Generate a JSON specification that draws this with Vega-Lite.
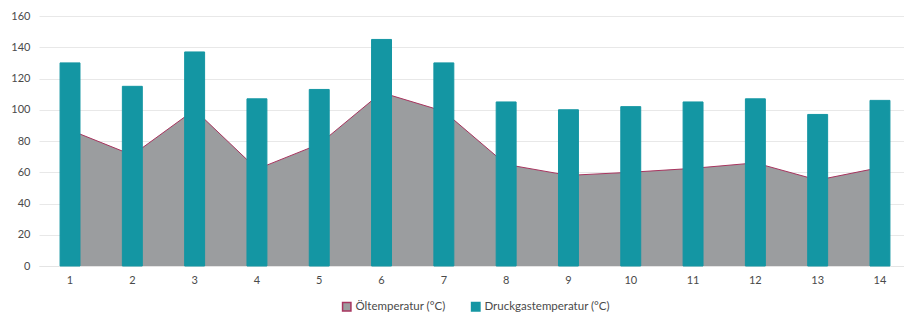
{
  "$schema": "https://vega.github.io/schema/vega-lite/v6.json",
  "autosize": "none",
  "width": 872,
  "height": 250,
  "padding": {"left": 39, "top": 16, "right": 0, "bottom": 47},
  "background": "white",
  "config": {
    "font": "Lato",
    "view": {"stroke": null},
    "axis": {"labelFont": "Lato", "labelFontSize": 11, "labelColor": "#4a4a4a", "ticks": false, "title": null},
    "axisY": {"tickCount": 8, "grid": true, "gridColor": "#e8e8e8", "domain": false, "labelPadding": 9, "labelOverlap": false},
    "legend": {"labelFont": "Lato", "labelFontSize": 11.5, "labelColor": "#4a4a4a", "layout": {"bottom": {"anchor": "middle"}}}
  },
  "data": {
    "values": [
      {"t": "1", "oel": 87, "druck": 130},
      {"t": "2", "oel": 71, "druck": 115},
      {"t": "3", "oel": 100, "druck": 137},
      {"t": "4", "oel": 62, "druck": 107},
      {"t": "5", "oel": 78, "druck": 113},
      {"t": "6", "oel": 111, "druck": 145},
      {"t": "7", "oel": 99, "druck": 130},
      {"t": "8", "oel": 65, "druck": 105},
      {"t": "9", "oel": 58, "druck": 100},
      {"t": "10", "oel": 60, "druck": 102},
      {"t": "11", "oel": 62.5, "druck": 105},
      {"t": "12", "oel": 66, "druck": 107},
      {"t": "13", "oel": 55, "druck": 97},
      {"t": "14", "oel": 63, "druck": 106}
    ]
  },
  "encoding": {
    "x": {
      "field": "t", "type": "ordinal", "sort": null,
      "scale": {"paddingInner": 0.68, "paddingOuter": 0.338},
      "axis": {"labelAngle": 0, "domain": true, "domainColor": "#e4e4e4", "grid": false, "labelPadding": 8}
    }
  },
  "layer": [
    {
      "mark": {"type": "area", "opacity": 1, "strokeWidth": 0},
      "encoding": {
        "y": {
          "field": "oel", "type": "quantitative",
          "scale": {"domain": [0, 160]}
        },
        "fill": {
          "datum": "Öltemperatur (°C)", "type": "nominal",
          "scale": {"domain": ["Öltemperatur (°C)", "Druckgastemperatur (°C)"], "range": ["#9b9d9f", "#1496a3"]},
          "legend": {"orient": "bottom", "direction": "horizontal", "title": null, "symbolType": "square", "symbolSize": 70, "symbolStrokeWidth": 1.5, "columnPadding": 22, "offset": 16, "labelOffset": 3}
        },
        "stroke": {
          "datum": "Öltemperatur (°C)", "type": "nominal",
          "scale": {"domain": ["Öltemperatur (°C)", "Druckgastemperatur (°C)"], "range": ["#a8355f", "#1496a3"]},
          "legend": {"orient": "bottom", "direction": "horizontal", "title": null, "symbolType": "square", "symbolSize": 70, "symbolStrokeWidth": 1.5, "columnPadding": 22, "offset": 16, "labelOffset": 3}
        }
      }
    },
    {
      "mark": {"type": "line", "color": "#a8355f", "strokeWidth": 1},
      "encoding": {
        "y": {"field": "oel", "type": "quantitative"}
      }
    },
    {
      "mark": {"type": "bar", "strokeWidth": 1},
      "encoding": {
        "y": {"field": "druck", "type": "quantitative"},
        "fill": {"datum": "Druckgastemperatur (°C)", "type": "nominal"},
        "stroke": {"datum": "Druckgastemperatur (°C)", "type": "nominal"}
      }
    }
  ]
}
